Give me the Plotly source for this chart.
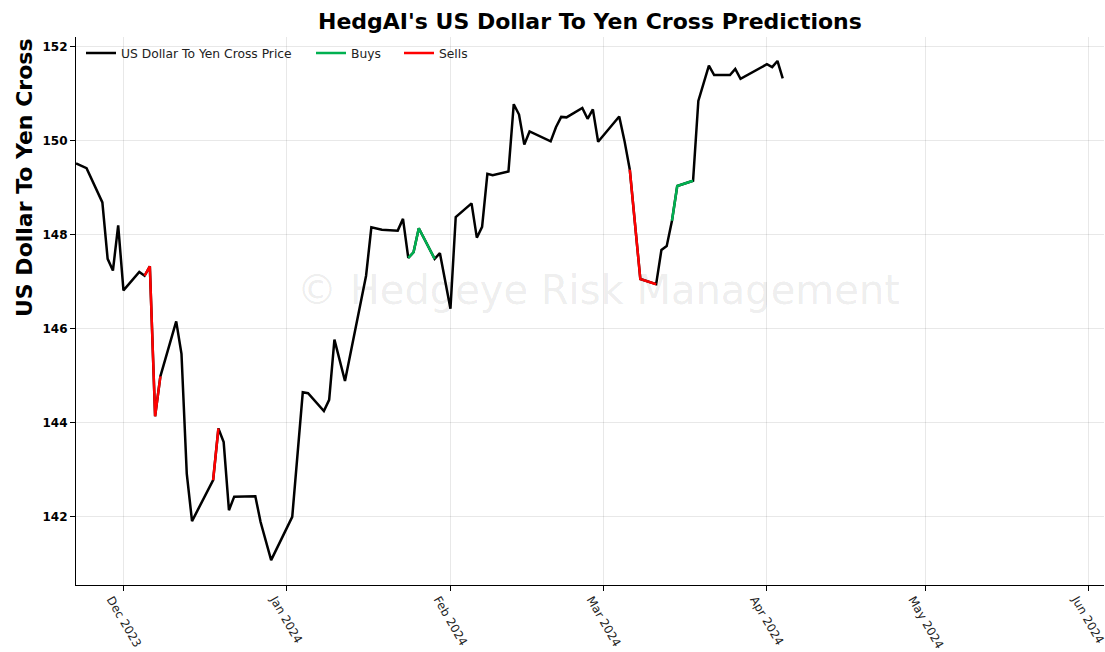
import plotly.graph_objects as go

# ---- data ----
dates = [
    "2023-11-22", "2023-11-24", "2023-11-27", "2023-11-28", "2023-11-29", "2023-11-30",
    "2023-12-01", "2023-12-04", "2023-12-05", "2023-12-06", "2023-12-07", "2023-12-08",
    "2023-12-11", "2023-12-12", "2023-12-13", "2023-12-14", "2023-12-18", "2023-12-19",
    "2023-12-20", "2023-12-21", "2023-12-22", "2023-12-26", "2023-12-27", "2023-12-29",
    "2024-01-02", "2024-01-04", "2024-01-05", "2024-01-08", "2024-01-09", "2024-01-10",
    "2024-01-12", "2024-01-16", "2024-01-17", "2024-01-18", "2024-01-19", "2024-01-22",
    "2024-01-23", "2024-01-24", "2024-01-25", "2024-01-26", "2024-01-29", "2024-01-30",
    "2024-02-01", "2024-02-02", "2024-02-05", "2024-02-06", "2024-02-07", "2024-02-08",
    "2024-02-09", "2024-02-12", "2024-02-13", "2024-02-14", "2024-02-15", "2024-02-16",
    "2024-02-20", "2024-02-21", "2024-02-22", "2024-02-23", "2024-02-26", "2024-02-27",
    "2024-02-28", "2024-02-29", "2024-03-04", "2024-03-05", "2024-03-06", "2024-03-08",
    "2024-03-11", "2024-03-12", "2024-03-13", "2024-03-14", "2024-03-15", "2024-03-18",
    "2024-03-19", "2024-03-21", "2024-03-22", "2024-03-25", "2024-03-26", "2024-03-27",
    "2024-04-01", "2024-04-02", "2024-04-03", "2024-04-04",
]
prices = [
    149.52, 149.42, 148.69, 147.49, 147.24, 148.20,
    146.82, 147.21, 147.13, 147.33, 144.14, 144.99,
    146.16, 145.47, 142.92, 141.91, 142.78, 143.88,
    143.59, 142.14, 142.43, 142.44, 141.89, 141.08,
    142.00, 144.65, 144.63, 144.25, 144.49, 145.77,
    144.89, 147.13, 148.16, 148.14, 148.11, 148.09,
    148.34, 147.51, 147.63, 148.14, 147.49, 147.61,
    146.43, 148.38, 148.67, 147.94, 148.17, 149.30,
    149.27, 149.35, 150.78, 150.56, 149.92, 150.20,
    149.99, 150.29, 150.51, 150.50, 150.70, 150.47,
    150.67, 149.98, 150.52, 150.00, 149.39, 147.06,
    146.95, 147.68, 147.76, 148.30, 149.04, 149.15,
    150.85, 151.60, 151.40, 151.40, 151.53, 151.32,
    151.63, 151.57, 151.70, 151.33,
]
buy_periods = [("2024-01-24", "2024-01-29"), ("2024-03-14", "2024-03-18")]
sell_periods = [("2023-12-05", "2023-12-08"), ("2023-12-18", "2023-12-19"), ("2024-03-06", "2024-03-11")]

tick_dates = ["2023-12-01", "2024-01-01", "2024-02-01", "2024-03-01", "2024-04-01", "2024-05-01", "2024-06-01"]
tick_labels = ["Dec 2023", "Jan 2024", "Feb 2024", "Mar 2024", "Apr 2024", "May 2024", "Jun 2024"]
y_ticks = [142, 144, 146, 148, 150, 152]

FONT = "DejaVu Sans"
L, R, T, B = 76, 1, 37, 67
PW, PH = 1105 - L - R, 652 - T - B


def px_x(p):
    return (p - L) / PW


def px_y(p):
    return (652 - B - p) / PH


def segments(periods):
    xs, ys = [], []
    for start, end in periods:
        for d, p in zip(dates, prices):
            if start <= d <= end:
                xs.append(d)
                ys.append(p)
        xs.append(None)
        ys.append(None)
    return xs, ys


fig = go.Figure()
fig.add_trace(go.Scatter(x=dates, y=prices, mode="lines", name="US Dollar To Yen Cross Price",
                         line=dict(color="black", width=2.5), legend="legend"))
bx, by = segments(buy_periods)
fig.add_trace(go.Scatter(x=bx, y=by, mode="lines", name="Buys",
                         line=dict(color="#00b050", width=2.5), connectgaps=False, legend="legend2"))
sx, sy = segments(sell_periods)
fig.add_trace(go.Scatter(x=sx, y=sy, mode="lines", name="Sells",
                         line=dict(color="#ff0000", width=2.5), connectgaps=False, legend="legend3"))

leg_common = dict(orientation="h", yanchor="middle", y=px_y(53), xanchor="left",
                  bgcolor="rgba(0,0,0,0)", font=dict(family=FONT, size=12.3, color="#222222"))

fig.update_layout(
    width=1105, height=652,
    margin=dict(l=L, r=R, t=T, b=B, autoexpand=False),
    paper_bgcolor="white", plot_bgcolor="white",
    font=dict(family=FONT, color="black"),
    showlegend=True,
    legend=dict(x=px_x(81), **leg_common),
    legend2=dict(x=px_x(311), **leg_common),
    legend3=dict(x=px_x(399), **leg_common),
    xaxis=dict(
        type="date", range=["2023-11-22", "2024-06-03 22:00"],
        tickvals=tick_dates, ticktext=tick_labels, tickangle=60,
        tickfont=dict(family=FONT, size=11.8, color="#222222"),
        ticklabelshift=-12, ticklabelstandoff=-3,
        automargin=False, ticklabeloverflow="allow",
        showgrid=True, gridcolor="rgba(0,0,0,0.09)", gridwidth=1,
        showline=True, linecolor="black", linewidth=1.2,
        ticks="outside", ticklen=5, tickcolor="black", zeroline=False,
    ),
    yaxis=dict(
        range=[140.55, 152.21], tickvals=y_ticks, automargin=False,
        tickfont=dict(family=FONT, size=12, color="black", weight="bold"),
        showgrid=True, gridcolor="rgba(0,0,0,0.09)", gridwidth=1,
        showline=True, linecolor="black", linewidth=1.2,
        ticks="outside", ticklen=5, tickcolor="black", zeroline=False,
    ),
    annotations=[
        dict(text="<b>HedgAI's US Dollar To Yen Cross Predictions</b>", x=0.5, y=px_y(21),
             xref="paper", yref="paper", showarrow=False, xanchor="center", yanchor="middle",
             font=dict(family=FONT, size=22, color="black")),
        dict(text="© Hedgeye Risk Management", x=px_x(598), y=px_y(290), xref="paper", yref="paper",
             showarrow=False, xanchor="center", yanchor="middle",
             font=dict(family=FONT, size=40, color="rgba(0,0,0,0.085)")),
        dict(text="<b>US Dollar To Yen Cross</b>", x=px_x(24), y=px_y(178),
             xref="paper", yref="paper", showarrow=False, textangle=-90,
             xanchor="center", yanchor="middle",
             font=dict(family=FONT, size=22, color="black")),
    ],
)

fig.write_html("out.html", config={"displayModeBar": False},
               post_script="document.body.style.margin='0';document.body.style.overflow='hidden';")
